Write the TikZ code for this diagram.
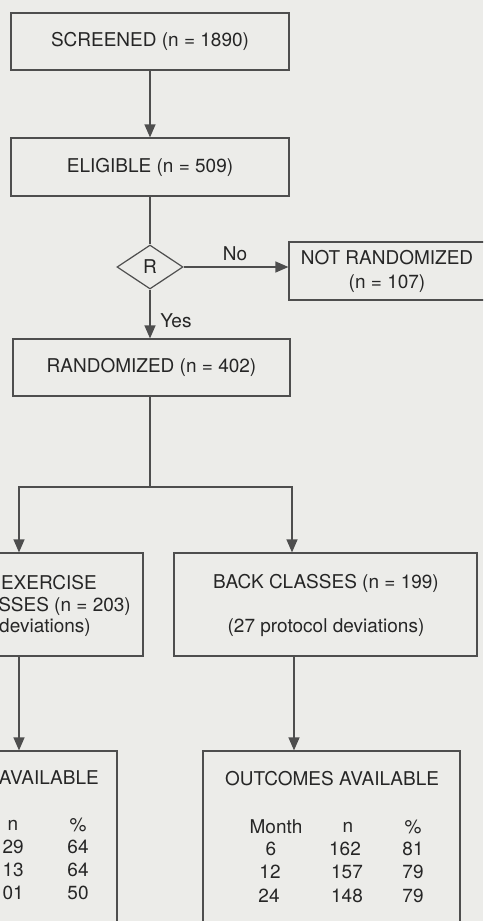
\documentclass[tikz,border=0pt]{standalone}
\usepackage{fontspec}
\setmainfont{TeX Gyre Heros}
\usetikzlibrary{arrows.meta,shapes.geometric}
\definecolor{bgc}{RGB}{236,236,233}
\definecolor{linec}{RGB}{78,78,78}
\definecolor{txtc}{RGB}{38,38,38}
\begin{document}
\begin{tikzpicture}[x=1pt,y=-1pt,
  box/.style={draw=linec,line width=1.2pt,inner sep=0pt,rectangle},
  txt/.style={text=txtc,font=\fontsize{19}{24}\selectfont,inner sep=0pt},
  arr/.style={draw=linec,line width=1.2pt,-{Triangle[width=11pt,length=13pt]}},
  ln/.style={draw=linec,line width=1.2pt}]
\useasboundingbox (0,0) rectangle (483,921);
\fill[bgc] (0,0) rectangle (483,921);
\clip (0,0) rectangle (483,921);

% boxes
\node[box,txt,minimum width=278pt,minimum height=57pt] (scr) at (150,41.5) {SCREENED (n = 1890)};
\node[box,txt,minimum width=278pt,minimum height=58pt] (eli) at (150,167) {ELIGIBLE (n = 509)};
\node[diamond,draw=linec,line width=1.2pt,inner sep=0pt,minimum width=66pt,minimum height=44pt,txt] (R) at (150,267) {R};
\node[box,txt,align=center,minimum width=196pt,minimum height=58pt] (notr) at (387,271) {NOT RANDOMIZED\\(n = 107)};
\node[box,txt,minimum width=277pt,minimum height=57pt] (rnd) at (151.5,367.5) {RANDOMIZED (n = 402)};
\node[box,minimum width=303pt,minimum height=103pt] (exer) at (-8.5,604.5) {};
\node[box,minimum width=303pt,minimum height=103pt] (back) at (325.5,604.5) {};
\node[box,minimum width=257pt,minimum height=239pt] (outL) at (-11.5,870.5) {};
\node[box,minimum width=257pt,minimum height=239pt] (outR) at (331.5,870.5) {};

% labels
\node[txt] (no) at (235,254) {No};
\node[txt] (yes) at (176,321) {Yes};

% exercise box text (cropped)
\node[txt,anchor=east] (ex1) at (97,583) {EXERCISE};
\node[txt,anchor=east] (ex2) at (131,606) {SSES (n = 203)};
\node[txt,anchor=east] (ex3) at (91,628) {deviations)};

% back classes text
\node[txt] (bk1) at (326,583) {BACK CLASSES (n = 199)};
\node[txt] (bk2) at (326,628) {(27 protocol deviations)};

% left outcomes (cropped)
\node[txt,anchor=east] (la) at (99,778) {AVAILABLE};
\node[txt] (lnh) at (13,825) {n};
\node[txt] (lph) at (78,825) {\%};
\node[txt,anchor=east] (ln1) at (24,847) {29};
\node[txt] (lp1) at (78,847) {64};
\node[txt,anchor=east] (ln2) at (24,870) {13};
\node[txt] (lp2) at (78,870) {64};
\node[txt,anchor=east] (ln3) at (24,893) {01};
\node[txt] (lp3) at (78,893) {50};

% right outcomes
\node[txt] (ra) at (332,779) {OUTCOMES AVAILABLE};
\node[txt] (rmh) at (276,827) {Month};
\node[txt] (rnh) at (348,827) {n};
\node[txt] (rph) at (413,827) {\%};
\node[txt] (rm1) at (271,849) {6};
\node[txt] (rn1) at (345,849) {162};
\node[txt] (rp1) at (413,849) {81};
\node[txt] (rm2) at (270,872) {12};
\node[txt] (rn2) at (347,872) {157};
\node[txt] (rp2) at (413,872) {79};
\node[txt] (rm3) at (269,896) {24};
\node[txt] (rn3) at (347,896) {148};
\node[txt] (rp3) at (413,896) {79};

% connectors
\draw[arr] (scr.south) -- (eli.north);
\draw[ln] (eli.south) -- (R.north);
\draw[arr] (R.east) -- (R.east -| notr.west);
\draw[arr] (R.south) -- (R.south |- rnd.north);
\coordinate (br) at (150,487);
\draw[ln] (br |- rnd.south) -- (br);
\draw[arr] (br) -| ([xshift=27.5pt]exer.north);
\draw[arr] (br) -| ([xshift=-33.5pt]back.north);
\draw[arr] ([xshift=27.5pt]exer.south) -- ([xshift=27.5pt]exer.south |- outL.north);
\draw[arr] ([xshift=-31.5pt]back.south) -- ([xshift=-31.5pt]back.south |- outR.north);
\end{tikzpicture}
\end{document}
